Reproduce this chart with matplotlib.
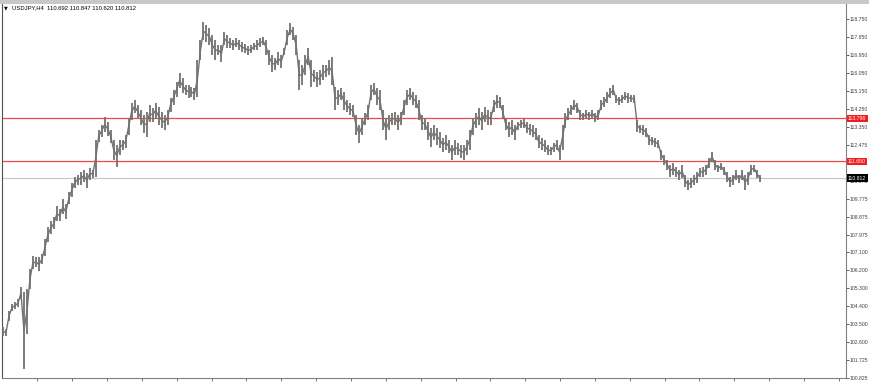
import matplotlib
matplotlib.use("Agg")
import matplotlib.pyplot as plt
import matplotlib.transforms as mtransforms
from matplotlib.patches import Rectangle
import numpy as np

# USDJPY H4, high/low per bar group
symbol = "USDJPY,H4"
last_ohlc = ["110.692", "110.847", "110.620", "110.812"]

highs = [
    103.36, 103.26, 104.16, 104.51, 104.61, 104.76, 105.35, 105.11, 105.25, 106.25,
    106.90, 106.85, 106.85, 107.00, 107.74, 108.34, 108.64, 108.84, 109.39, 109.24,
    109.74, 109.49, 110.09, 110.58, 110.88, 110.98, 111.13, 111.23, 111.08, 111.33,
    111.23, 112.72, 113.22, 113.47, 113.87, 113.62, 113.22, 112.72, 112.48, 112.72,
    112.72, 112.97, 113.82, 114.57, 114.72, 114.47, 114.22, 113.97, 114.12, 114.47,
    114.32, 114.57, 114.37, 114.12, 113.97, 114.22, 114.82, 115.21, 115.61, 116.06,
    115.81, 115.46, 115.46, 115.36, 115.31, 116.71, 117.70, 118.60, 118.45, 118.30,
    117.95, 117.70, 117.46, 117.46, 118.10, 117.95, 117.80, 117.70, 117.80, 117.70,
    117.60, 117.51, 117.41, 117.46, 117.56, 117.70, 117.80, 117.85, 117.70, 117.21,
    116.96, 116.81, 117.11, 116.96, 117.31, 118.20, 118.55, 118.35, 117.95, 116.71,
    116.46, 116.96, 117.31, 116.71, 116.21, 116.11, 116.21, 116.46, 116.46, 116.71,
    116.86, 115.36, 115.21, 115.31, 115.11, 114.72, 114.57, 114.47, 113.97, 113.47,
    113.82, 114.07, 114.47, 115.46, 115.56, 115.31, 115.21, 114.22, 113.82, 113.97,
    114.07, 114.12, 113.97, 114.12, 114.72, 115.21, 115.31, 115.11, 114.97, 114.72,
    113.97, 113.82, 113.62, 113.32, 113.47, 113.32, 113.12, 112.82, 112.97, 112.72,
    112.48, 112.72, 112.58, 112.48, 112.48, 112.72, 113.22, 113.82, 114.07, 114.32,
    114.12, 114.37, 114.22, 114.12, 114.72, 114.97, 114.87, 114.47, 113.82, 113.62,
    113.72, 113.47, 113.62, 113.72, 113.82, 113.62, 113.52, 113.47, 113.32, 112.97,
    112.82, 112.72, 112.48, 112.37, 112.58, 112.72, 112.48, 113.47, 114.07, 114.32,
    114.47, 114.72, 114.57, 114.22, 114.07, 114.22, 114.12, 114.22, 114.07, 114.22,
    114.72, 114.87, 115.11, 115.31, 115.46, 114.97, 114.87, 114.97, 115.11, 115.07,
    114.97, 114.97, 113.72, 113.47, 113.47, 113.32, 112.97, 112.87, 112.82, 112.72,
    112.23, 111.98, 111.73, 111.48, 111.58, 111.38, 111.23, 111.48, 110.98, 110.73,
    110.83, 110.98, 111.13, 111.33, 111.38, 111.48, 111.83, 112.13, 111.73, 111.48,
    111.58, 111.38, 111.13, 110.88, 110.98, 111.23, 110.98, 111.23, 110.98, 111.13,
    111.48, 111.48, 111.23, 110.98,
]

lows = [
    102.91, 102.91, 103.66, 104.16, 104.26, 104.36, 104.76, 101.27, 103.01, 105.25,
    106.25, 106.35, 106.15, 106.50, 106.90, 107.60, 107.99, 108.24, 108.64, 108.64,
    108.99, 108.74, 109.49, 109.84, 110.33, 110.48, 110.48, 110.63, 110.33, 110.73,
    110.83, 110.88, 112.62, 112.87, 113.12, 112.92, 112.58, 111.73, 111.38, 111.98,
    112.23, 112.33, 112.97, 113.72, 114.07, 113.82, 113.47, 113.07, 112.87, 113.62,
    113.62, 113.82, 113.47, 113.32, 113.22, 113.47, 114.12, 114.47, 114.87, 115.31,
    115.07, 114.97, 114.82, 114.87, 114.72, 114.87, 116.71, 117.70, 117.60, 117.46,
    116.96, 116.71, 116.96, 116.61, 117.46, 117.31, 117.31, 117.21, 117.36, 117.21,
    117.11, 117.06, 116.96, 117.06, 117.21, 117.21, 117.36, 117.46, 116.96, 116.46,
    116.11, 116.21, 116.46, 116.31, 116.96, 117.46, 117.95, 117.70, 116.96, 115.21,
    115.46, 115.96, 116.46, 115.36, 115.61, 115.36, 115.46, 115.71, 115.86, 115.96,
    115.46, 114.22, 114.47, 114.72, 114.22, 114.12, 113.97, 113.87, 112.97, 112.58,
    112.97, 113.47, 113.72, 114.72, 114.97, 114.47, 114.22, 113.22, 112.72, 113.22,
    113.47, 113.47, 113.22, 113.47, 113.97, 114.47, 114.72, 114.47, 114.32, 113.72,
    113.22, 113.22, 112.72, 112.37, 112.72, 112.48, 112.33, 112.13, 112.23, 112.08,
    111.73, 111.98, 111.98, 111.83, 111.73, 111.98, 112.23, 112.97, 113.32, 113.47,
    113.22, 113.62, 113.47, 113.47, 114.12, 114.32, 114.32, 113.82, 113.22, 112.87,
    112.97, 112.72, 113.22, 113.32, 113.32, 113.07, 112.97, 112.87, 112.72, 112.33,
    112.23, 112.13, 111.98, 111.98, 112.13, 112.23, 111.73, 112.23, 113.32, 113.72,
    113.97, 114.22, 114.07, 113.72, 113.72, 113.82, 113.72, 113.82, 113.62, 113.72,
    114.22, 114.37, 114.57, 114.82, 114.97, 114.57, 114.47, 114.57, 114.72, 114.57,
    114.62, 114.57, 113.12, 113.07, 112.97, 112.87, 112.48, 112.48, 112.37, 112.33,
    111.73, 111.48, 111.23, 110.88, 110.98, 110.88, 110.73, 110.83, 110.38, 110.23,
    110.33, 110.48, 110.58, 110.88, 110.88, 110.98, 111.33, 111.63, 111.23, 111.13,
    111.23, 110.98, 110.63, 110.38, 110.48, 110.73, 110.58, 110.73, 110.23, 110.48,
    110.98, 111.13, 110.83, 110.63,
]

levels = [113.796, 111.650]
bid = 110.812
price_ticks = [118.750, 117.850, 116.950, 116.050, 115.150, 114.250, 113.350,
               112.475, 111.575, 110.675, 109.775, 108.875, 107.975, 107.100,
               106.200, 105.300, 104.400, 103.500, 102.600, 101.725, 100.825]

W, H = 870, 382
fig = plt.figure(figsize=(W / 100, H / 100), dpi=100)
fig.patch.set_facecolor("white")
# window border strip on top
fig.patches.append(Rectangle((0, 1 - 4 / H), 1, 4 / H, transform=fig.transFigure,
                             facecolor="#c8c8c8", edgecolor="none"))

ax = fig.add_axes([2 / W, 1 - 378 / H, (845.5 - 2) / W, (378 - 4) / H])
step = 2.992  # px per bar group
ax.set_xlim((2 - 3) / step, (845.5 - 3) / step)
ax.set_ylim(100.815, 119.515)

idx = np.arange(len(highs))
mids = (np.array(highs) + np.array(lows)) / 2
bar_col = "#727272"
ax.vlines(idx, lows, highs, color=bar_col, linewidth=1.3, zorder=3)
ax.plot(idx, mids, color=bar_col, linewidth=1.0, zorder=3)

for lv in levels:
    ax.axhline(lv, color="#f04646", linewidth=0.9, zorder=2)
ax.axhline(bid, color="#c8c8c8", linewidth=0.9, zorder=1)

for s in ax.spines.values():
    s.set_color("#808080")
    s.set_linewidth(0.8)
ax.spines["left"].set_color("#505050")
ax.spines["top"].set_visible(False)

ax.yaxis.tick_right()
ax.set_yticks(price_ticks)
ax.set_yticklabels([f"{v:.3f}" for v in price_ticks])
ax.tick_params(axis="y", direction="out", length=2.0, width=0.6, pad=1.0,
               labelsize=3.7, colors="#404040", labelfontfamily="Liberation Sans")
ax.set_xticks(np.arange((37.3 - 3) / step, 281, 34.85 / step))
ax.set_xticklabels([])
ax.tick_params(axis="x", direction="out", length=2.5, width=0.6, colors="#606060")

# price tags on the right axis
tr = mtransforms.blended_transform_factory(ax.transAxes, ax.transData)
tag_style = dict(transform=tr, ha="left", va="center", fontsize=3.7,
                 family="Liberation Sans", color="white", zorder=10, clip_on=False)
for lv in levels:
    ax.text(1.003, lv, f"{lv:.3f}",
            bbox=dict(boxstyle="square,pad=0.25", fc="#f01e1e", ec="none"), **tag_style)
ax.text(1.003, bid, f"{bid:.3f}",
        bbox=dict(boxstyle="square,pad=0.25", fc="black", ec="none"), **tag_style)

# header
fig.text(4 / W, 1 - 8 / H, "\u25bc", fontsize=3.5, color="black", va="center")
fig.text(12 / W, 1 - 8 / H, symbol + "  " + " ".join(last_ohlc), fontsize=4.2,
         family="Liberation Sans", color="black", va="center")

fig.savefig("out.png", dpi=100)
